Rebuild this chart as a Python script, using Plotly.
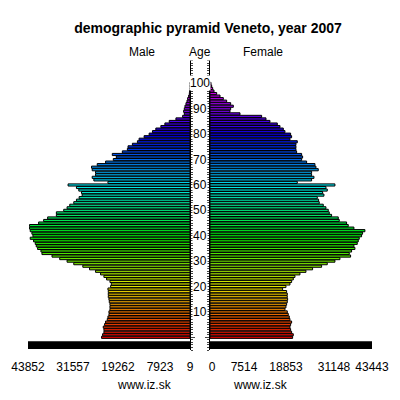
import plotly.graph_objects as go
from plotly.subplots import make_subplots

ages = list(range(0, 101))

# male bar ends (zoom px), converted below
male_px = [243, 246, 250, 250, 248, 252, 255, 260, 262, 265,
           265, 268, 268, 268, 266, 265, 263, 263, 263, 262,
           270, 272, 268, 258, 250, 240, 225, 207, 187, 160,
           140, 118, 95, 65, 62, 52, 48, 45, 40, 30,
           38, 35, 30, 28, 28, 55, 70, 82, 108, 108,
           130, 140, 148, 160, 168, 176, 185, 183, 175, 168,
           143, 262, 220, 215, 225, 225, 215, 213, 230, 255,
           278, 287, 275, 305, 320, 322, 335, 350, 355, 370,
           385, 395, 405, 420, 432, 445, 465, 485, 490, 488,
           490, 492, 495, 498, 500, 503, 505, 506, 507, 507, 507]
female_px = [278, 280, 275, 272, 270, 272, 275, 270, 268, 265,
             262, 255, 258, 260, 262, 263, 262, 262, 260, 248,
             258, 270, 275, 280, 285, 300, 318, 338, 365, 382,
             405, 420, 452, 448, 455, 465, 462, 472, 475, 478,
             485, 488, 495, 462, 445, 440, 418, 415, 395, 388,
             385, 378, 370, 358, 356, 352, 372, 368, 382, 378,
             405, 292, 335, 342, 335, 335, 355, 348, 345, 320,
             305, 308, 305, 290, 288, 288, 288, 292, 270, 275,
             272, 255, 250, 240, 232, 210, 198, 185, 120, 90,
             92, 100, 92, 80, 70, 60, 50, 42, 38, 35, 33]
male = [round((507 - p) / 3 * 272) for p in male_px]
female = [round((p - 30) / 3 * 268) for p in female_px]

male_ticks = ["43852", "31557", "19262", "7923", "9"]
female_ticks = ["0", "7514", "18853", "31148", "43443"]
MMAX, FMAX = 43852, 43443

colors = ["hsl(%d,100%%,45%%)" % min(300, int(age * 3.05)) for age in ages]

S = 8  # page offset

fig = make_subplots(rows=1, cols=2, shared_yaxes=False, horizontal_spacing=0.05)
fig.add_trace(go.Bar(y=ages, x=male, orientation="h", marker_color=colors,
                     marker_line_color="black", marker_line_width=1), row=1, col=1)
fig.add_trace(go.Bar(y=ages, x=female, orientation="h", marker_color=colors,
                     marker_line_color="black", marker_line_width=1), row=1, col=2)

font = dict(family="Liberation Sans, Arial", size=12, color="black")
fig.update_layout(width=400, height=400,
                  margin=dict(l=0, r=0, t=58 - S, b=50 + S, autoexpand=False),
                  plot_bgcolor="white", paper_bgcolor="white", showlegend=False,
                  bargap=0.15, font=font,
                  title=dict(text="<b>demographic pyramid Veneto, year 2007</b>",
                             x=0.5, y=1 - (28 - S) / 400, xanchor="center",
                             yanchor="middle", font=dict(size=14)))
# pixel-evenly spaced tick labels, as in the original
mpos = [28, 73, 118, 160, 190]
fpos = [212, 244, 286, 334, 372]
xax = dict(ticks="", showgrid=False, zeroline=False, showline=False,
           automargin=False, ticklabelstandoff=8)
fig.update_xaxes(domain=[(28 - S) / 400, (190 - S) / 400], range=[MMAX, 0], row=1, col=1,
                 tickvals=[(190 - p) / 162 * MMAX for p in mpos], ticktext=male_ticks, **xax)
fig.update_xaxes(domain=[(210 - S) / 400, (372 - S) / 400], range=[0, FMAX], row=1, col=2,
                 tickvals=[(p - 210) / 162 * FMAX for p in fpos], ticktext=female_ticks, **xax)
yax = dict(range=[-5, 110], showgrid=False, zeroline=False, showticklabels=False,
           ticks="outside", ticklen=4, tickwidth=1, dtick=10, tick0=0, automargin=False,
           minor=dict(ticks="outside", ticklen=2, dtick=1, tick0=0))
fig.update_yaxes(side="right", showline=True, linecolor="black", row=1, col=1, **yax)
fig.update_yaxes(side="left", showline=True, linecolor="black", row=1, col=2, **yax)

for xr in ["x domain", "x2 domain"]:
    fig.add_shape(type="rect", xref=xr, yref="y", x0=0, x1=1, y0=-1.6, y1=-4.6,
                  fillcolor="black", line_width=0)
for age in range(10, 101, 10):
    fig.add_annotation(x=(200 - S) / 400, xref="paper", y=age, yref="y", text=str(age),
                       showarrow=False, font=font, bgcolor="white", borderpad=0)
for x, t in [(127, "Male"), (200, "Age"), (285, "Female")]:
    fig.add_annotation(x=(x - S) / 400, xref="paper", y=1.05, yref="paper",
                       text=t, showarrow=False, font=font, bgcolor="white")
for x in [115, 290]:
    fig.add_annotation(x=(x - S) / 400, xref="paper", y=-0.15, yref="paper",
                       text="www.iz.sk", showarrow=False, font=font)

fig.write_html("out.html")
